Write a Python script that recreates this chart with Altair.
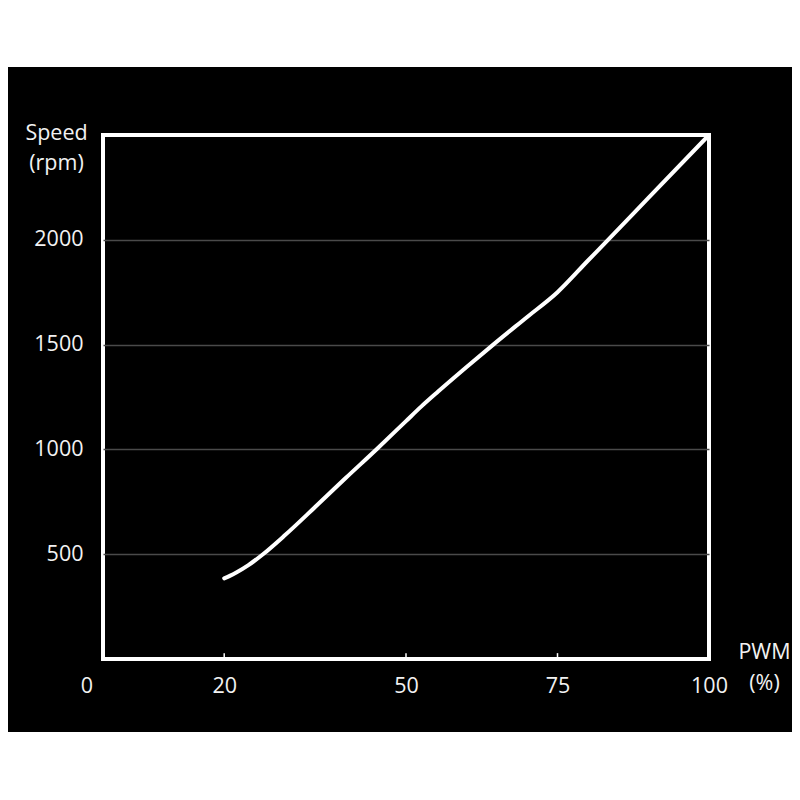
import altair as alt
import pandas as pd

pwm = [20, 21, 22, 24, 26.4, 30, 35, 40, 45.2, 50, 52.5, 55.3, 60, 64.4, 70, 75, 80, 83.7, 90, 100]
speed = [385, 398, 413, 448, 500, 590, 725, 862, 1002, 1135, 1204, 1276, 1393, 1500, 1632, 1750, 1900, 2010, 2200, 2500]
x_ticks = [20, 50, 75, 100]
y_ticks = [500, 1000, 1500, 2000]

FONT = "Open Sans"
TXT = "#f2f2f2"
FS = 21.5

curve = pd.DataFrame({"pwm": pwm, "speed": speed})
ticks = pd.DataFrame({"pwm": [20, 50, 75], "y0": [0, 0, 0], "y1": [28, 28, 28]})
origin = pd.DataFrame({"pwm": [0], "speed": [0], "label": ["0"]})
one = pd.DataFrame({"a": [0]})

xscale = alt.Scale(domain=[0, 100], nice=False)
yscale = alt.Scale(domain=[0, 2500], nice=False)

xaxis = alt.Axis(values=x_ticks, grid=False, domain=False, ticks=False,
                 labelColor=TXT, labelFont=FONT, labelFontSize=FS, labelPadding=16,
                 title=["PWM", "(%)"], titleColor=TXT, titleFont=FONT, titleFontSize=FS,
                 titleFontWeight="normal", titleX=661, titleY=-18, titleAlign="center",
                 titleBaseline="top", titleLineHeight=31, labelFlush=False)
yaxis = alt.Axis(values=y_ticks, format="d", grid=True, gridColor="#4a4a4a", gridWidth=1.5,
                 domain=False, ticks=False,
                 labelColor=TXT, labelFont=FONT, labelFontSize=FS, labelPadding=20,
                 title=["Speed", "(rpm)"], titleColor=TXT, titleFont=FONT, titleFontSize=FS,
                 titleFontWeight="normal", titleAngle=0, titleX=-47, titleY=-13,
                 titleAlign="center", titleBaseline="top", titleLineHeight=30)

line = alt.Chart(curve).mark_line(color="white", strokeWidth=4, strokeCap="round",
                                  interpolate="monotone").encode(
    x=alt.X("pwm:Q", scale=xscale, axis=xaxis),
    y=alt.Y("speed:Q", scale=yscale, axis=yaxis),
)

tick_rules = alt.Chart(ticks).mark_rule(color="white", strokeWidth=1.5).encode(
    x=alt.X("pwm:Q", scale=xscale),
    y=alt.Y("y0:Q", scale=yscale),
    y2="y1:Q",
)

zero = alt.Chart(origin).mark_text(color=TXT, font=FONT, fontSize=FS, align="center",
                                   baseline="middle", dx=-16, dy=28).encode(
    x=alt.X("pwm:Q", scale=xscale),
    y=alt.Y("speed:Q", scale=yscale),
    text="label:N",
)

top_strip = alt.Chart(one).mark_rect(color="white").encode(
    x=alt.value(-100), x2=alt.value(700), y=alt.value(-130), y2=alt.value(-68))
bottom_strip = alt.Chart(one).mark_rect(color="white").encode(
    x=alt.value(-100), x2=alt.value(700), y=alt.value(597), y2=alt.value(660))

chart = alt.layer(top_strip, bottom_strip, tick_rules, line, zero).properties(
    width=606, height=524,
    background="black",
    padding={"left": 95, "top": 127, "right": 83, "bottom": 133},
    autosize=alt.AutoSizeParams(type="none"),
).configure_view(stroke="white", strokeWidth=4, fill="black")

chart.save("out.html", embed_options={"renderer": "svg", "actions": False})
